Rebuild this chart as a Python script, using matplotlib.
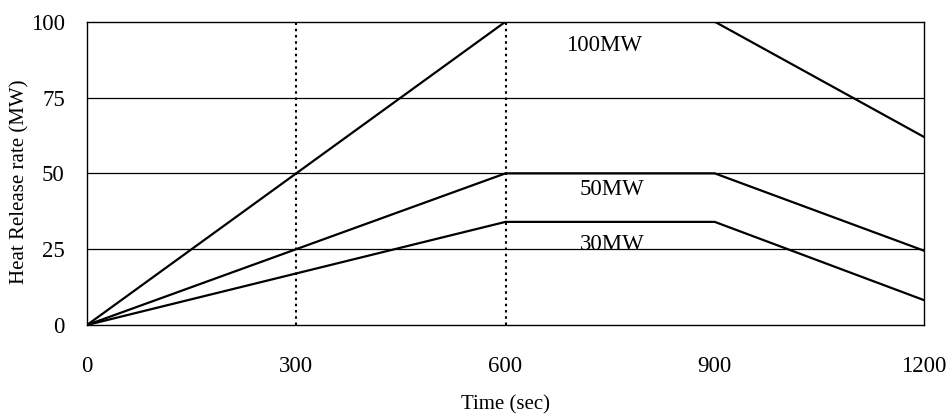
import matplotlib
matplotlib.use("Agg")
import matplotlib.pyplot as plt

time_s = [0, 600, 900, 1200]
hrr_100 = [0, 100, 100, 62]
hrr_50 = [0, 50, 50, 24.5]
hrr_30 = [0, 34, 34, 8.2]
labels = ["100MW", "50MW", "30MW"]
label_pos = [(742, 92.3), (753, 44.8), (753, 26.4)]
x_ticks = [0, 300, 600, 900, 1200]
y_ticks = [0, 25, 50, 75, 100]
dotted_x = [300, 600]

plt.rcParams['font.family'] = ['Liberation Serif', 'DejaVu Serif']

fig = plt.figure(figsize=(9.47, 4.15), dpi=100)
ax = fig.add_axes([87/947, 1-325/415, (924-87)/947, (325-21.7)/415])

for yv in y_ticks[1:-1]:
    ax.axhline(yv, color='black', lw=0.9, zorder=1)
for xv in dotted_x:
    ax.axvline(xv, color='black', lw=1.5, ls=(0, (1.2, 1.8)), zorder=1)

for series in (hrr_100, hrr_50, hrr_30):
    ax.plot(time_s, series, color='black', lw=1.6, zorder=3)

for text, (xp, yp) in zip(labels, label_pos):
    ax.text(xp, yp, text, ha='center', va='center', fontsize=16.5, zorder=4)

ax.set_xlim(0, 1200)
ax.set_ylim(0, 100)
ax.set_xticks(x_ticks)
ax.set_yticks(y_ticks)
ax.tick_params(axis='both', length=0, labelsize=16.5)
ax.tick_params(axis='x', pad=22)
ax.tick_params(axis='y', pad=16)
for s in ax.spines.values():
    s.set_linewidth(1.0)
    s.set_color('black')

ax.set_xlabel("Time (sec)", fontsize=15)
ax.set_ylabel("Heat Release rate (MW)", fontsize=15)
ax.xaxis.set_label_coords(0.5, (325-405)/303.3)
ax.xaxis.label.set_va('center')
ax.yaxis.set_label_coords((20-87)/837, (325-182)/303.3)
ax.yaxis.label.set_va('center')

fig.savefig("out.png", dpi=100)
